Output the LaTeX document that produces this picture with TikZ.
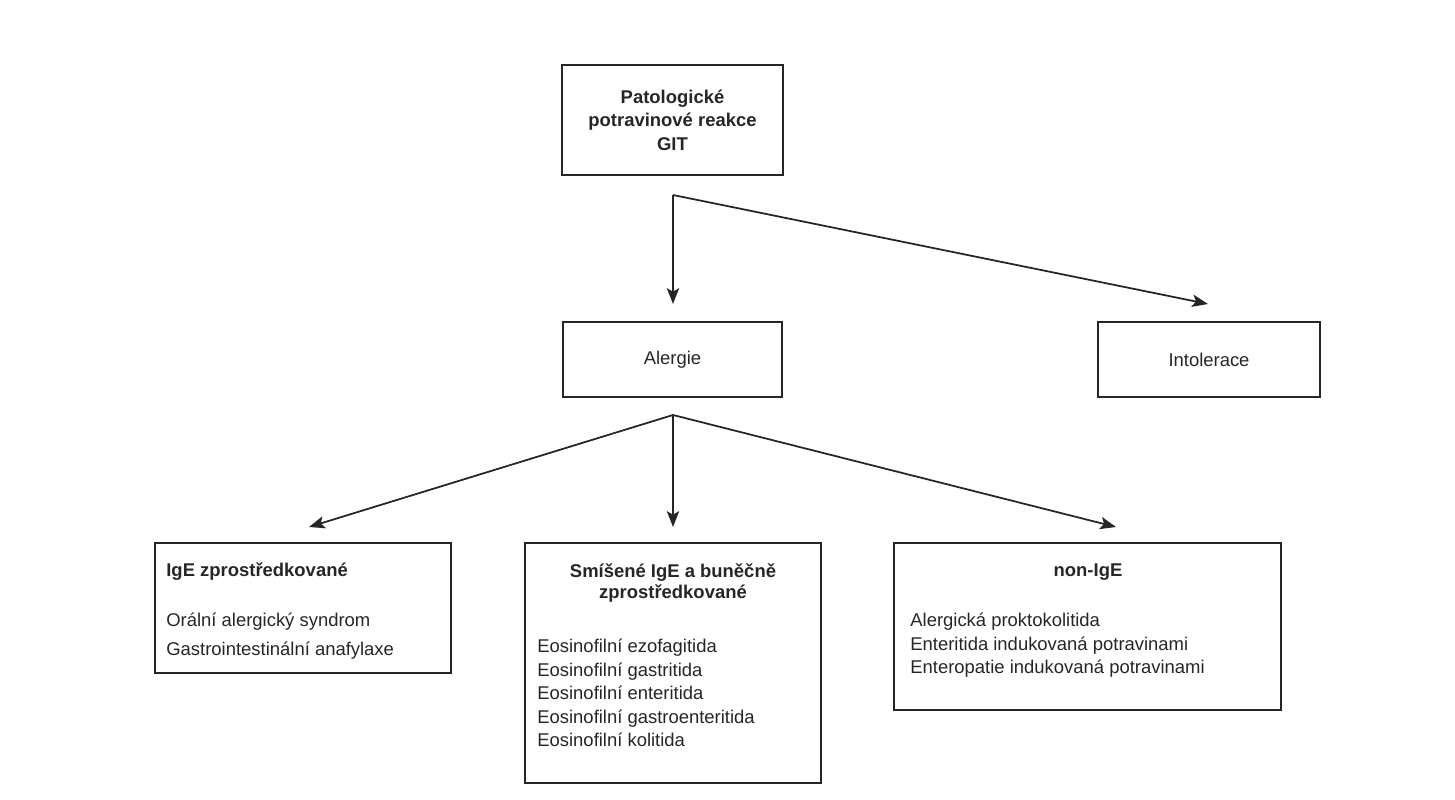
\documentclass[tikz,border=0pt]{standalone}
\usepackage{fontspec}
\setmainfont{Liberation Sans}
\usetikzlibrary{arrows.meta}
\begin{document}
\begin{tikzpicture}[x=0.02cm,y=-0.02cm,
  box/.style={draw=black!85,line width=1pt,inner sep=0pt},
  txt/.style={inner sep=0pt,font=\fontsize{10.5}{13.3}\selectfont,text=black!85},
  hd/.style={txt,font=\fontsize{10.5}{13.3}\selectfont\bfseries},
  arr/.style={draw=black!85,line width=1pt,-{Stealth[length=9pt,width=7pt,inset=2pt]}}]
\useasboundingbox (0,0) rectangle (1455,800);
\node[box,minimum width=221*0.02cm,minimum height=110*0.02cm] (top) at (672.5,120) {};
\node[box,minimum width=219*0.02cm,minimum height=75*0.02cm] (al) at (672.5,359.5) {};
\node[box,minimum width=222*0.02cm,minimum height=75*0.02cm] (in) at (1209,359.5) {};
\node[box,minimum width=296*0.02cm,minimum height=130*0.02cm] (ige) at (303,608) {};
\node[box,minimum width=296*0.02cm,minimum height=240*0.02cm] (sm) at (673,663) {};
\node[box,minimum width=387*0.02cm,minimum height=167*0.02cm] (non) at (1087.5,626.5) {};
\node[hd,align=center] (ttop) at (top.center) {Patologické\\potravinové reakce\\GIT};
\node[txt] (tal) at (al.center) {Alergie};
\node[txt] (tin) at (in.center) {Intolerace};
\node[hd,anchor=west] (tige) at (166,572) {IgE zprostředkované};
\node[txt,anchor=north west,align=left] (lige) at (166,613) {Orální alergický syndrom\\[3pt]Gastrointestinální anafylaxe};
\node[hd,align=center,anchor=north] (tsm) at (673,563) {Smíšené IgE a buněčně\\[-1pt]zprostředkované};
\node[txt,anchor=north west,align=left] (lsm) at (537,639) {Eosinofilní ezofagitida\\Eosinofilní gastritida\\Eosinofilní enteritida\\Eosinofilní gastroenteritida\\Eosinofilní kolitida};
\node[hd] (tnon) at (1088,572) {non-IgE};
\node[txt,anchor=north west,align=left] (lnon) at (910,613) {Alergická proktokolitida\\Enteritida indukovaná potravinami\\Enteropatie indukovaná potravinami};
\coordinate (s1) at (673,195);
\coordinate (s2) at (673,415);
\coordinate (e1) at (673,304);
\coordinate (e2) at (1208,304);
\coordinate (e3) at (309,527);
\coordinate (e4) at (673,527);
\coordinate (e5) at (1116,527);
\draw[arr] (s1) -- (e1);
\draw[arr] (s1) -- (e2);
\draw[arr] (s2) -- (e3);
\draw[arr] (s2) -- (e4);
\draw[arr] (s2) -- (e5);
\end{tikzpicture}
\end{document}
